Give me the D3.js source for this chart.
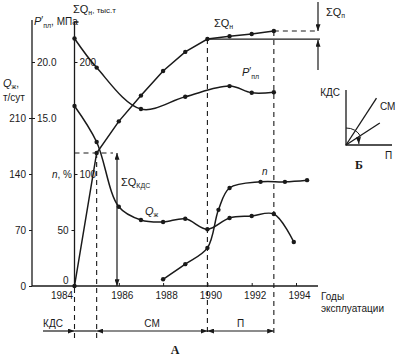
<!DOCTYPE html>
<html><head><meta charset="utf-8">
<script src="https://cdn.jsdelivr.net/npm/d3@7"></script>
<style>
body{margin:0;background:#fff}
svg text{font-family:"Liberation Sans",Arial,sans-serif;font-size:10px;fill:#1a1a1a}
</style></head><body>
<svg id="c" width="400" height="357"></svg>
<script>
// ---- data ----
const sumQYears=[1984,1985,1986,1987,1988,1989,1990,1991,1992,1993];
const sumQ=[0,118.75,147,170,192,209,220.5,223,225,227.7];          // ΣQн, тыс.т
const presYears=[1984,1985,1987,1989,1991,1992,1993];
const pres=[22.1,19.5,15.8,16.9,17.85,17.25,17.3];                 // P'пл, МПа
const liqYears=[1984,1985,1986,1987,1988,1989,1990,1991,1992,1993,1993.9];
const liq=[225,180,99,82.5,80,84,71,85,87.5,90,55];                // Qж, т/сут
const nYears=[1988,1989,1990,1990.5,1991,1992.4,1993.5,1994.5];
const nPct=[6,19.5,34,68,87.5,93,93,94.5];                         // n, %
const yearTicks=[1984,1986,1988,1990,1992,1994];
const liqTicks=[0,70,140,210];
const presTicks=[15,20];
const sumQTicksR=[100,200];
const sumQTicksL=[0,50];
const phases=["КДС","СМ","П"];
const phaseStart=[1983.5,1985,1990];
const phaseEnd=[1984,1990,1993];
const diagAngles=[57,33];   // panel Б, degrees

const svg=d3.select("#c");
const x=d3.scaleLinear().domain([1984,1994]).range([74.5,296]);
const yLiq=d3.scaleLinear().domain([0,210]).range([286,118]);
const yPres=d3.scaleLinear().domain([15,20]).range([118,62]);
const yS=d3.scaleLinear().domain([0,200]).range([286,62]);
const stroke="#1a1a1a";

const defs=svg.append("defs");
defs.append("marker").attr("id","ah").attr("viewBox","0 0 8 6").attr("refX",8).attr("refY",3)
 .attr("markerWidth",7).attr("markerHeight",5).attr("markerUnits","userSpaceOnUse")
 .attr("orient","auto-start-reverse")
 .append("path").attr("d","M0,0L8,3L0,6z").attr("fill",stroke);

const axX0=32, axS=x(1984), base=286;

// axis lines
svg.append("line").attr("x1",axX0).attr("x2",axX0).attr("y1",20).attr("y2",base).attr("stroke",stroke).attr("stroke-width",1.3);
svg.append("path").attr("d",`M${axS+4},22H${axS}V${base}`).attr("fill","none").attr("stroke",stroke).attr("stroke-width",1.3);
svg.append("line").attr("x1",axX0).attr("x2",318).attr("y1",base).attr("y2",base).attr("stroke",stroke).attr("stroke-width",1.3);

function styleAxis(g){g.select(".domain").remove();g.selectAll("line").attr("stroke",stroke);g.selectAll("text").attr("font-size",null).attr("font-family",null);}
svg.append("g").attr("transform",`translate(${axX0},0)`).call(d3.axisLeft(yLiq).tickValues(liqTicks).tickSize(3).tickPadding(3)).call(styleAxis);
svg.append("g").attr("transform",`translate(${axX0},0)`).call(d3.axisRight(yPres).tickValues(presTicks).tickSize(3).tickPadding(2)).call(styleAxis);
svg.append("g").attr("transform",`translate(${axS},0)`).call(d3.axisRight(yS).tickValues(sumQTicksR).tickSize(3).tickPadding(2)).call(styleAxis);
const gl=svg.append("g").attr("transform",`translate(${axS},0)`).call(d3.axisLeft(yS).tickValues(sumQTicksL).tickSize(3).tickPadding(3)).call(styleAxis);
gl.selectAll(".tick").filter(d=>d===0).select("text").attr("dy","-0.3em");
gl.selectAll(".tick").filter(d=>d===0).select("line").remove();
const gx=svg.append("g").attr("transform",`translate(0,${base})`).call(d3.axisBottom(x).tickValues(yearTicks).tickFormat(d3.format("d")).tickSize(-3).tickPadding(6)).call(styleAxis);
gx.selectAll(".tick text").attr("dx",d=>d===1984?-13:3);
gx.selectAll(".tick").filter(d=>d===1984).select("line").remove();

// axis titles
function presLabel(xp,yp){
  const t=svg.append("text").attr("x",xp).attr("y",yp);
  t.append("tspan").attr("font-style","italic").attr("font-size",11).text("P");
  t.append("tspan").attr("font-size",10).attr("dy",-1).text("′");
  t.append("tspan").attr("font-size",7).attr("dy",4).text("пл");
  return t;
}
presLabel(34,25).append("tspan").attr("dy",-3).text(", МПа");
const t2=svg.append("text").attr("x",73).attr("y",13);
t2.append("tspan").attr("font-size",11).text("ΣQ");
t2.append("tspan").attr("font-size",7).attr("dy",2).text("н");
t2.append("tspan").attr("dy",-2).attr("font-size",8).text(", тыс.т");
const t3=svg.append("text").attr("x",3).attr("y",87);
t3.append("tspan").attr("font-style","italic").attr("font-size",11).text("Q");
t3.append("tspan").attr("font-size",7).attr("dy",2).text("ж");
t3.append("tspan").attr("dy",-2).text(",");
svg.append("text").attr("x",3).attr("y",101).text("т/сут");
const t4=svg.append("text").attr("x",52).attr("y",178);
t4.append("tspan").attr("font-style","italic").text("n");
t4.append("tspan").text(", %");
svg.append("text").attr("x",321).attr("y",300).text("Годы");
svg.append("text").attr("x",321).attr("y",312).text("эксплуатации");

// dashed guides
const dash="5,4";
function dl(x1,y1,x2,y2){svg.append("line").attr("x1",x1).attr("y1",y1).attr("x2",x2).attr("y2",y2).attr("stroke",stroke).attr("stroke-dasharray",dash).attr("stroke-width",1.1);}
dl(x(1984),base+2,x(1984),338);
dl(x(1985),yS(sumQ[1]),x(1985),340);
dl(x(1990),yS(sumQ[6]),x(1990),333);
dl(x(1993),yS(sumQ[9]),x(1993),333);
dl(axS,yS(sumQ[1]),113,yS(sumQ[1]));
dl(x(1993),yS(sumQ[9]),317,yS(sumQ[9]));
// solid horizontal at ΣQ(1990)
svg.append("line").attr("x1",x(1990)).attr("x2",320).attr("y1",yS(sumQ[6])).attr("y2",yS(sumQ[6])).attr("stroke",stroke).attr("stroke-width",1.3);
// ΣQп arrows
function arrow(x1,y1,x2,y2,both){const l=svg.append("line").attr("x1",x1).attr("y1",y1).attr("x2",x2).attr("y2",y2).attr("stroke",stroke).attr("stroke-width",1.2).attr("marker-end","url(#ah)");if(both)l.attr("marker-start","url(#ah)");}
arrow(318,2,318,yS(sumQ[9]));
arrow(318,70,318,yS(sumQ[6])+1);
const tq=svg.append("text").attr("x",326).attr("y",16);
tq.append("tspan").attr("font-size",11).text("ΣQ");
tq.append("tspan").attr("font-size",7).attr("dy",2).text("п");
// ΣQкдс arrow
arrow(117,yS(sumQ[1]),117,base,true);
const tk=svg.append("text").attr("x",121).attr("y",186);
tk.append("tspan").attr("font-size",11).text("ΣQ");
tk.append("tspan").attr("font-size",7).attr("dy",2).text("КДС");

// curves
function series(xs,ys,ysc,curve){
  const pts=xs.map((d,i)=>[x(d),ysc(ys[i])]);
  svg.append("path").attr("d",d3.line().curve(curve)(pts)).attr("fill","none").attr("stroke",stroke).attr("stroke-width",1.5);
  svg.append("g").selectAll("circle").data(pts).join("circle").attr("cx",d=>d[0]).attr("cy",d=>d[1]).attr("r",2.2).attr("fill",stroke);
}
series(sumQYears,sumQ,yS,d3.curveLinear);
series(presYears,pres,yPres,d3.curveCatmullRom.alpha(0.5));
series(liqYears,liq,yLiq,d3.curveCatmullRom.alpha(0.5));
series(nYears,nPct,yS,d3.curveCatmullRom.alpha(0.5));
// curve labels
const lq=svg.append("text").attr("x",214).attr("y",27);
lq.append("tspan").attr("font-size",11).text("ΣQ");
lq.append("tspan").attr("font-size",7).attr("dy",2).text("н");
presLabel(242,76);
const lz=svg.append("text").attr("x",145).attr("y",215);
lz.append("tspan").attr("font-style","italic").attr("font-size",11).text("Q");
lz.append("tspan").attr("font-size",7).attr("dy",2).text("ж");
svg.append("text").attr("x",262).attr("y",175).attr("font-style","italic").text("n");

// phase bar
const py=331;
svg.append("line").attr("x1",x(1984)).attr("x2",x(1985)).attr("y1",py).attr("y2",py).attr("stroke",stroke).attr("stroke-width",1.2);
phases.forEach((p,i)=>{
  const x1=i===0?43:x(phaseStart[i]), x2=x(phaseEnd[i]);
  const l=svg.append("line").attr("x1",x1).attr("x2",x2).attr("y1",py).attr("y2",py).attr("stroke",stroke).attr("stroke-width",1.2).attr("marker-end","url(#ah)");
  if(i>0) l.attr("marker-start","url(#ah)");
  svg.append("text").attr("x",i===0?53:(x1+x2)/2).attr("y",327).attr("text-anchor","middle").text(p);
});
svg.append("text").attr("x",175).attr("y",354).attr("text-anchor","middle").style("font-family","'Liberation Serif',serif").style("font-weight","bold").style("font-size","12px").text("А");

// panel Б
const o=[346,145];
const rr=d3.scaleLinear().domain([0,1]).range([0,56]);
svg.append("path").attr("d",`M${o[0]},90V${o[1]}H392`).attr("fill","none").attr("stroke",stroke).attr("stroke-width",1.3);
diagAngles.forEach((a,i)=>{
  const r=rr(i===0?1:0.72), rad=a*Math.PI/180;
  svg.append("line").attr("x1",o[0]).attr("y1",o[1]).attr("x2",o[0]+r*Math.cos(rad)).attr("y2",o[1]-r*Math.sin(rad)).attr("stroke",stroke).attr("stroke-width",1.3);
});
const arcR=17;
const a1=diagAngles[1]*Math.PI/180-0.05;
svg.append("path").attr("d",`M${o[0]},${o[1]-arcR}A${arcR},${arcR} 0 0 1 ${o[0]+arcR*Math.cos(a1)},${o[1]-arcR*Math.sin(a1)}`).attr("fill","none").attr("stroke",stroke).attr("stroke-width",1);
const aR=13, b1=diagAngles[1]*Math.PI/180, b2=0.08;
svg.append("path").attr("d",`M${o[0]+aR*Math.cos(b1)},${o[1]-aR*Math.sin(b1)}A${aR},${aR} 0 0 1 ${o[0]+aR*Math.cos(b2)},${o[1]-aR*Math.sin(b2)}`).attr("fill","none").attr("stroke",stroke).attr("stroke-width",1).attr("marker-end","url(#ah)");
svg.append("text").attr("x",340).attr("y",96).attr("text-anchor","end").text("КДС");
svg.append("text").attr("x",380).attr("y",110).text("СМ");
svg.append("text").attr("x",385).attr("y",159).text("П");
svg.append("text").attr("x",359).attr("y",169).attr("text-anchor","middle").style("font-family","'Liberation Serif',serif").style("font-weight","bold").style("font-size","12px").text("Б");
</script></body></html>
